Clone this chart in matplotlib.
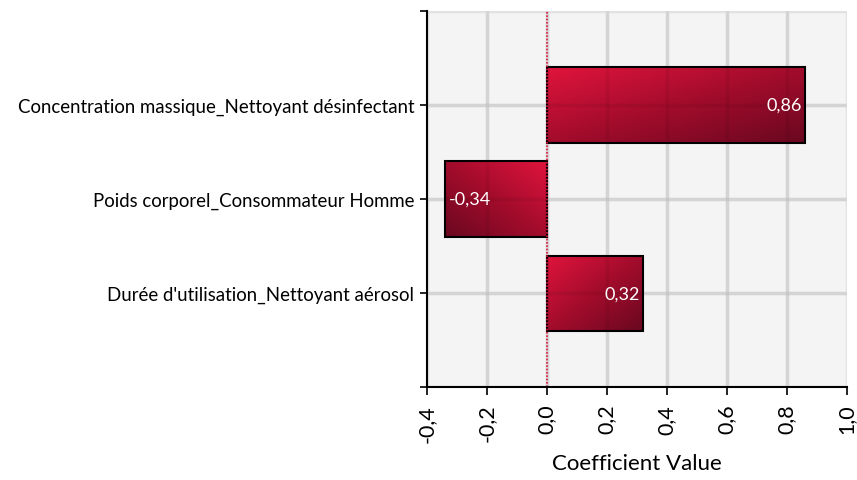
import matplotlib.pyplot as plt
import numpy as np
from matplotlib.colors import LinearSegmentedColormap

categories = ["Durée d'utilisation_Nettoyant aérosol",
              "Poids corporel_Consommateur Homme",
              "Concentration massique_Nettoyant désinfectant"]
values = [0.32, -0.34, 0.86]
labels = ["0,32", "-0,34", "0,86"]
xticks = [-0.4, -0.2, 0.0, 0.2, 0.4, 0.6, 0.8, 1.0]
xticklabels = ["-0,4", "-0,2", "0,0", "0,2", "0,4", "0,6", "0,8", "1,0"]

plt.rcParams['font.family'] = ['Lato', 'DejaVu Sans']

fig = plt.figure(figsize=(8.57, 4.81), dpi=100)
ax = fig.add_axes([0.498, 0.193, 0.49, 0.782])
ax.set_facecolor("#f4f4f4")

cmap = LinearSegmentedColormap.from_list("redgrad", ["#e0143c", "#a30c2c", "#6a0820"])
grad = np.add.outer(np.linspace(0, 1, 100), np.linspace(0, 1, 100)) / 2

bars = ax.barh(range(len(values)), values, height=0.8, color="none",
               edgecolor="black", linewidth=1.5, zorder=3)
for b in bars:
    x0, y0 = b.get_x(), b.get_y()
    w, h = b.get_width(), b.get_height()
    im = ax.imshow(grad, cmap=cmap, extent=[x0, x0 + w, y0, y0 + h],
                   origin="upper", aspect="auto", zorder=2)
    im.set_clip_path(b)

for i, (v, t) in enumerate(zip(values, labels)):
    if v >= 0:
        ax.text(v - 0.01, i, t, color="white", ha="right", va="center",
                fontsize=13, zorder=5)
    else:
        ax.text(v + 0.013, i, t, color="white", ha="left", va="center",
                fontsize=13, zorder=5)

ax.axvline(0, color="#e0143c", linestyle=(0, (1, 1)), linewidth=1.2, zorder=4)

ax.set_xlim(-0.4, 1.0)
ax.set_ylim(-1, 3)
ax.set_xticks(xticks)
ax.set_xticklabels(xticklabels, rotation=90, fontsize=15.5)
ax.set_yticks(range(len(categories)))
ax.set_yticklabels(categories, fontsize=13.4)
ax.tick_params(axis="y", length=5, width=1.2, pad=4)
ax.tick_params(axis="x", length=6, width=1.2, pad=6)
ax.set_yticks([-1, 3], minor=True)
ax.tick_params(axis="y", which="minor", length=5, width=1.2)
ax.grid(True, which="major", axis="both", color="#e2e2e2", linewidth=2.5, zorder=1)
ax.grid(True, which="minor", axis="y", color="#e2e2e2", linewidth=2.5, zorder=1)
ax.set_axisbelow(True)

# faint grid traces visible through the bars
for xv in xticks[1:-1]:
    ax.axvline(xv, color="black", linewidth=2.5, alpha=0.06, zorder=3.5)
for yv in range(len(categories)):
    ax.axhline(yv, color="black", linewidth=2.5, alpha=0.06, zorder=3.5)

for s in ["top", "right"]:
    ax.spines[s].set_visible(False)
for s in ["left", "bottom"]:
    ax.spines[s].set_linewidth(1.5)
    ax.spines[s].set_zorder(6)

ax.set_xlabel("Coefficient Value", fontsize=16, labelpad=8)

fig.savefig("out.png", dpi=100)
